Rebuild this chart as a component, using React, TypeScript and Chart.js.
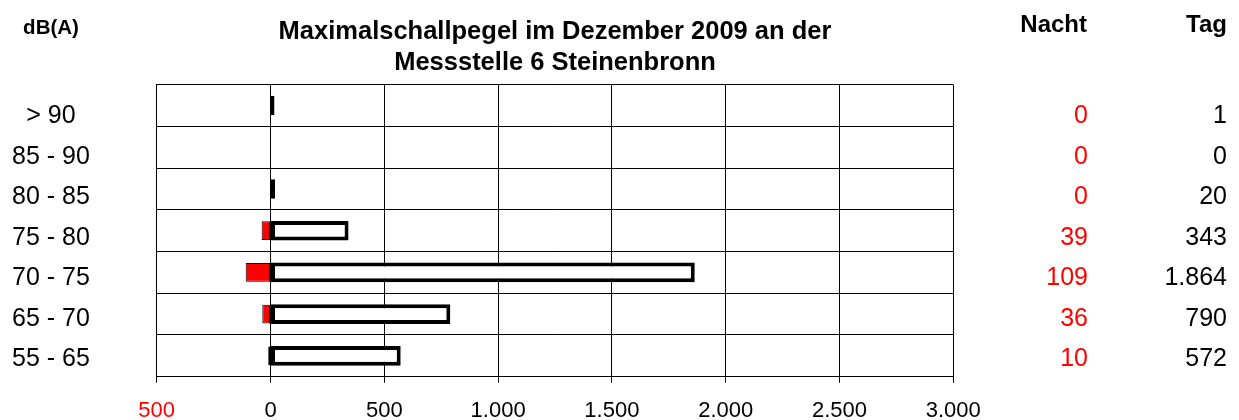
import React, { useEffect, useRef } from 'react';
import { Chart, registerables } from 'chart.js';

Chart.register(...registerables);

const categories = ['> 90', '85 - 90', '80 - 85', '75 - 80', '70 - 75', '65 - 70', '55 - 65'];
const nachtValues = [0, 0, 0, 39, 109, 36, 10];
const tagValues = [1, 0, 20, 343, 1864, 790, 572];
const xMin = -500;
const xMax = 3000;
const xStep = 500;
const titleLines = ['Maximalschallpegel im Dezember 2009 an der', 'Messstelle 6 Steinenbronn'];
const unitLabel = 'dB(A)';
const nachtHeader = 'Nacht';
const tagHeader = 'Tag';

const FONT = '"Liberation Sans", Arial, Helvetica, sans-serif';

const fmt = (v: number) =>
  String(Math.abs(Math.round(v))).replace(/\B(?=(\d{3})+(?!\d))/g, '.');

const textPlugin = {
  id: 'textPlugin',
  afterDraw(chart: any) {
    const ctx = chart.ctx as CanvasRenderingContext2D;
    const { top, bottom, left, right } = chart.chartArea;
    ctx.save();
    ctx.fillStyle = '#000';
    ctx.textBaseline = 'alphabetic';

    // title
    ctx.font = `bold 25.5px ${FONT}`;
    ctx.textAlign = 'center';
    const cx = (left + right) / 2;
    ctx.fillText(titleLines[0], cx, 38.5);
    ctx.fillText(titleLines[1], cx, 69.5);

    // unit
    ctx.font = `bold 20.5px ${FONT}`;
    ctx.fillText(unitLabel, 51, 34);

    // column headers
    ctx.font = `bold 24px ${FONT}`;
    ctx.textAlign = 'right';
    ctx.fillText(nachtHeader, 1087, 32);
    ctx.fillText(tagHeader, 1227, 32);

    // row texts
    const n = categories.length;
    const first = top + 29.8;
    const last = bottom - 19.2;
    const step = (last - first) / (n - 1);
    const size = 25;
    ctx.font = `${size}px ${FONT}`;
    for (let i = 0; i < n; i++) {
      const yc = first + i * step;
      const yb = yc + 0.358 * size;
      ctx.textAlign = 'center';
      ctx.fillStyle = '#000';
      ctx.fillText(categories[i], 51, yb);
      ctx.textAlign = 'right';
      ctx.fillStyle = '#FF0000';
      ctx.fillText(fmt(nachtValues[i]), 1088, yb);
      ctx.fillStyle = '#000';
      ctx.fillText(fmt(tagValues[i]), 1227, yb);
    }
    ctx.restore();
  },
};

export default function App() {
  const canvasRef = useRef<HTMLCanvasElement | null>(null);

  useEffect(() => {
    if (!canvasRef.current) return;
    const chart = new Chart(canvasRef.current, {
      type: 'bar',
      data: {
        labels: categories,
        datasets: [
          {
            label: 'Tag',
            data: tagValues.map((v) => (v === 0 ? null : v)),
            backgroundColor: '#FFFFFF',
            borderColor: '#000000',
            borderWidth: 4,
            borderSkipped: false,
            minBarLength: 4,
            barPercentage: 0.47,
            categoryPercentage: 1,
          },
          {
            label: 'Nacht',
            data: nachtValues.map((v) => (v === 0 ? null : -v)),
            backgroundColor: '#FF0000',
            borderColor: '#000000',
            borderWidth: 1,
            borderSkipped: false,
            barPercentage: 0.45,
            categoryPercentage: 1,
          },
        ],
      },
      options: {
        indexAxis: 'y',
        animation: false,
        responsive: false,
        maintainAspectRatio: false,
        layout: { padding: { top: 84.7, right: 285.7, bottom: 0, left: 0 } },
        plugins: {
          legend: { display: false },
          tooltip: { enabled: false },
          title: { display: false },
        },
        scales: {
          x: {
            type: 'linear',
            stacked: true,
            min: xMin,
            max: xMax,
            ticks: {
              stepSize: xStep,
              autoSkip: false,
              maxRotation: 0,
              padding: 15,
              font: { size: 22, family: FONT },
              color: (c: any) => (c.tick && c.tick.value < 0 ? '#FF0000' : '#000000'),
              callback: (v: any) => fmt(Number(v)),
            },
            grid: { color: '#000000', lineWidth: 1, tickLength: 6, tickColor: '#000000' },
            border: { color: '#000000', width: 1 },
            afterFit: (s: any) => {
              s.height = 43.3;
            },
          },
          y: {
            stacked: true,
            ticks: { display: false },
            grid: { color: '#000000', lineWidth: 1, drawTicks: false, offset: true },
            border: { color: '#000000', width: 1 },
            afterFit: (s: any) => {
              s.width = 156.7;
            },
          },
        },
      },
      plugins: [textPlugin],
    });
    return () => chart.destroy();
  }, []);

  return (
    <div style={{ position: 'absolute', left: 0, top: 0, width: 1239, height: 420, background: '#fff' }}>
      <canvas ref={canvasRef} width={1239} height={420} style={{ display: 'block' }} />
    </div>
  );
}
